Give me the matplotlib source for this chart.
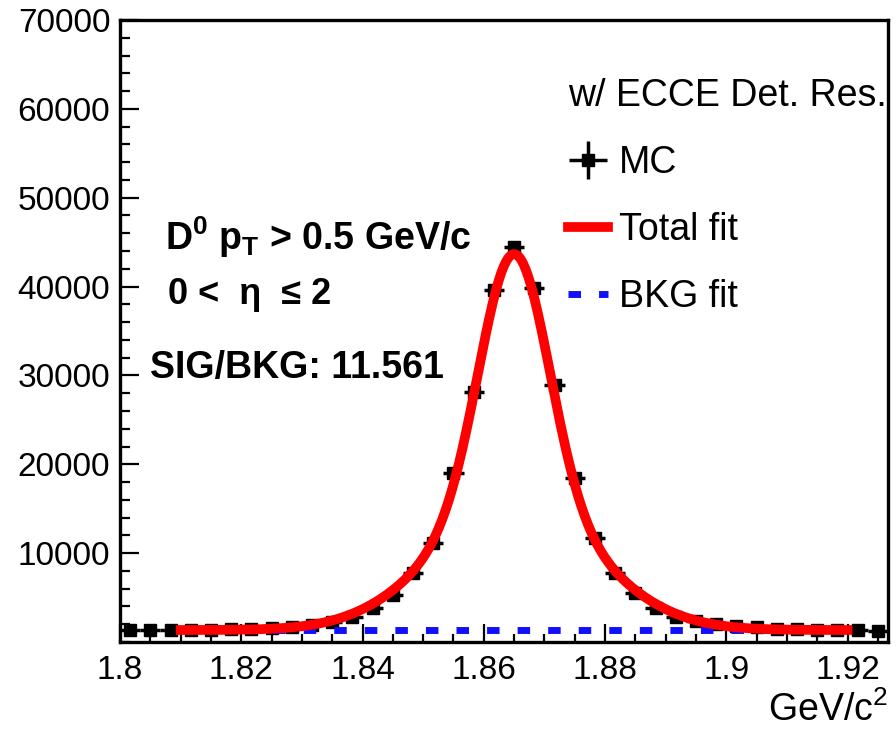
import numpy as np
import matplotlib.pyplot as plt
from matplotlib.ticker import MultipleLocator, FuncFormatter

plt.rcParams['font.family'] = ['Liberation Sans', 'DejaVu Sans']
plt.rcParams['mathtext.fontset'] = 'custom'
plt.rcParams['mathtext.rm'] = 'Liberation Sans'
plt.rcParams['mathtext.it'] = 'Liberation Sans:italic'
plt.rcParams['mathtext.bf'] = 'Liberation Sans:bold'

# histogram: 38 bins from 1.8 GeV
bin_width = 0.1266667 / 38
bin_lo = 1.8
mc_counts = [1300, 1300, 1320, 1350, 1380, 1420, 1480, 1550, 1700, 1900,
             2300, 2850, 3800, 5300, 7750, 11100, 19000, 28100, 39600, 44500,
             39800, 28900, 18500, 11700, 7750, 5500, 3800, 2800, 2400, 2000,
             1800, 1650, 1500, 1450, 1400, 1350, 1300, 1250]

# fit parameters (double gaussian + flat background)
fit_range = (1.81, 1.92)
fit_mean = 1.865
fit_sigma_core = 0.00567
fit_sigma_wide = 0.0133
fit_amp_core = 28550
fit_amp_wide = 13750
fit_bkg = 1350

centers = bin_lo + (np.arange(len(mc_counts)) + 0.5) * bin_width
counts = np.array(mc_counts, dtype=float)

xf = np.linspace(fit_range[0], fit_range[1], 600)
bkg_curve = np.full_like(xf, fit_bkg)
total_curve = (fit_bkg
               + fit_amp_core * np.exp(-0.5 * ((xf - fit_mean) / fit_sigma_core) ** 2)
               + fit_amp_wide * np.exp(-0.5 * ((xf - fit_mean) / fit_sigma_wide) ** 2))

fig = plt.figure(figsize=(8.96, 7.29), dpi=100)
ax = fig.add_axes([0.134, 0.1193, 0.857, 0.8533])

mc = ax.errorbar(centers, counts, xerr=bin_width / 2, yerr=np.sqrt(counts),
                 fmt='s', color='black', markersize=9, elinewidth=2.5,
                 capsize=0, label='MC', zorder=2)
bkg_line, = ax.plot(xf, bkg_curve, color='#1010ff', lw=5, dashes=(1.8, 2.6),
                    label='BKG fit', zorder=3)
tot_line, = ax.plot(xf, total_curve, color='#ff0000', lw=7, label='Total fit',
                    zorder=4)

ax.set_xlim(1.8, bin_lo + len(mc_counts) * bin_width)
ax.set_ylim(0, 70000)
ax.set_yticks(np.arange(10000, 70001, 10000))
ax.yaxis.set_minor_locator(MultipleLocator(2000))
ax.xaxis.set_major_locator(MultipleLocator(0.02))
ax.xaxis.set_minor_locator(MultipleLocator(0.005))
ax.xaxis.set_major_formatter(FuncFormatter(lambda v, p: '%g' % round(v, 3)))
ax.yaxis.set_major_formatter(FuncFormatter(lambda v, p: '%d' % v))

ax.tick_params(which='both', direction='in', top=False, right=False,
               labelsize=24, width=1.6)
ax.tick_params(axis='y', which='major', length=14, pad=7)
ax.tick_params(axis='y', which='minor', length=7)
ax.tick_params(axis='x', which='major', length=13, pad=9)
ax.tick_params(axis='x', which='minor', length=6)
for s in ax.spines.values():
    s.set_linewidth(2.4)

ax.set_xlabel('GeV/c$^{2}$', fontsize=27, loc='right', labelpad=4)

ax.text(0.059, 0.65, r'$\mathbf{D^{0}\ p_{T}}$ > 0.5 GeV/c', transform=ax.transAxes,
        fontsize=27, fontweight='bold', va='center', ha='left')
ax.text(0.062, 0.558, '0 <  η  ≤ 2', transform=ax.transAxes,
        fontsize=26, fontweight='bold', va='center', ha='left')
ax.text(0.039, 0.44, 'SIG/BKG: 11.561', transform=ax.transAxes,
        fontsize=27, fontweight='bold', va='center', ha='left')

leg = ax.legend([mc, tot_line, bkg_line], ['MC', 'Total fit', 'BKG fit'],
                title='w/ ECCE Det. Res.', loc='upper left',
                bbox_to_anchor=(0.583, 0.907), frameon=False, fontsize=27,
                title_fontsize=27, handlelength=1.07, handletextpad=0.3,
                labelspacing=0.83, borderpad=0, borderaxespad=0,
                alignment='left')

fig.savefig('out.png', dpi=100)
